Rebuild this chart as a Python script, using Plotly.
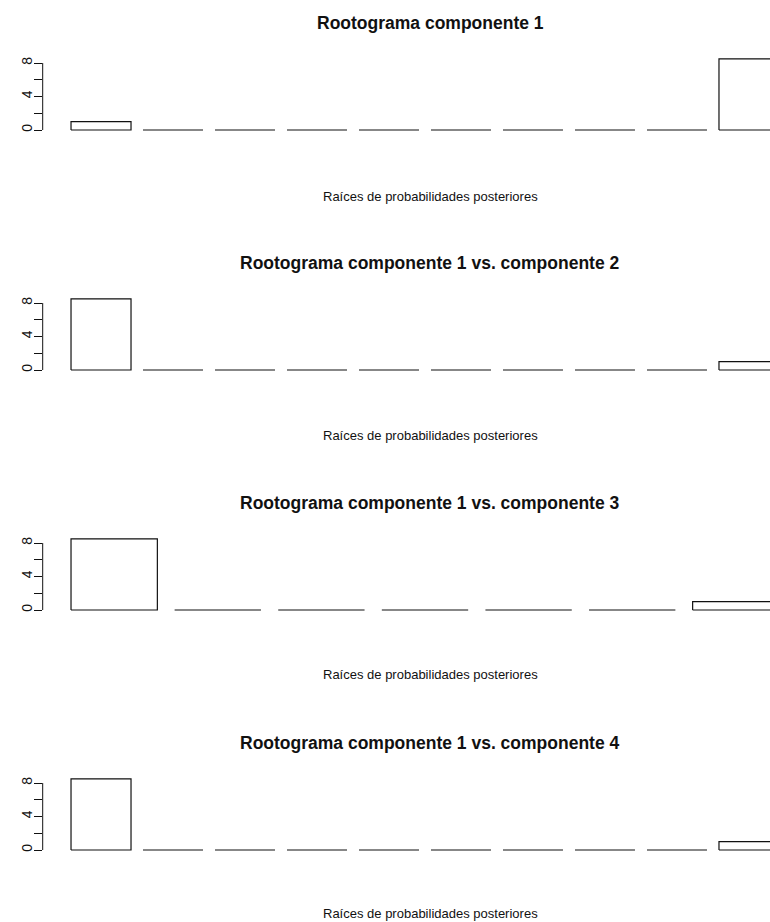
import plotly.graph_objects as go

# Square roots of posterior-probability counts per bin, one list per panel
titles = [
    "Rootograma componente 1",
    "Rootograma componente 1 vs. componente 2",
    "Rootograma componente 1 vs. componente 3",
    "Rootograma componente 1 vs. componente 4",
]
heights_c1 = [1, 0, 0, 0, 0, 0, 0, 0, 0, 8.49]
heights_c1_c2 = [8.49, 0, 0, 0, 0, 0, 0, 0, 0, 1]
heights_c1_c3 = [8.49, 0, 0, 0, 0, 0, 1]
heights_c1_c4 = [8.49, 0, 0, 0, 0, 0, 0, 0, 0, 1]
panels = [heights_c1, heights_c1_c2, heights_c1_c3, heights_c1_c4]
xlabel = "Raíces de probabilidades posteriores"
ytick_vals = [0, 2, 4, 6, 8]
ytick_text = ["0", "", "4", "", "8"]

W, H = 770, 922
PANEL_STEP = 240          # vertical pixel step between panels
LABEL_STEP = 239          # step for the x-axis captions
ZERO_PX = 130             # pixel row of y=0 in the first panel
UNIT_PX = 8.375           # pixels per y unit
LEFT_PX = 42.7            # left edge of plot region
PLOT_W_PX = 764.6         # full width of the plot region (runs past the page)
TITLE_X_PX = 430
TITLE_Y_PX = 23
XLAB_Y_PX = 196

BAR_W, SPACE = 1.0, 0.2
FONT = "Liberation Sans, Arial, sans-serif"

fig = go.Figure()
layout = dict(
    width=W, height=H, margin=dict(l=0, r=0, t=0, b=0),
    paper_bgcolor="white", plot_bgcolor="white", showlegend=False,
)
shapes, annotations = [], []

for k, hts in enumerate(panels):
    n = len(hts)
    ax = "" if k == 0 else str(k + 1)
    # R-style barplot geometry: bars of width 1 separated by 0.2
    xs, ys = [], []
    for i, h in enumerate(hts):
        l = SPACE + (BAR_W + SPACE) * i
        r = l + BAR_W
        xs += [l, l, r, r, l, None]
        ys += [0, h, h, 0, 0, None]
    fig.add_trace(go.Scatter(
        x=xs, y=ys, mode="lines", xaxis="x" + ax, yaxis="y" + ax,
        line=dict(color="#111111", width=1.2), hoverinfo="skip",
    ))

    # axis limits with 4% padding like base R
    xmin, xmax = SPACE, (BAR_W + SPACE) * n
    xr = xmax - xmin
    x_lo = xmin - 0.04 * xr
    scale = PLOT_W_PX / (1.08 * xr)
    x_hi = x_lo + (W - LEFT_PX) / scale
    ymax = max(hts)
    y_lo, y_hi = -0.04 * ymax, 1.04 * ymax

    zero_px = ZERO_PX + PANEL_STEP * k
    top_px = zero_px - y_hi * UNIT_PX
    bot_px = zero_px - y_lo * UNIT_PX

    layout["xaxis" + ax] = dict(
        domain=[LEFT_PX / W, 1], range=[x_lo, x_hi], visible=False,
        anchor="y" + ax,
    )
    layout["yaxis" + ax] = dict(
        domain=[1 - bot_px / H, 1 - top_px / H], range=[y_lo, y_hi],
        anchor="x" + ax, showgrid=False, zeroline=False, showline=False,
        ticks="outside", ticklen=8, tickwidth=1, tickcolor="#111111",
        tickvals=ytick_vals, ticktext=ytick_text, tickangle=-90,
        ticklabelstandoff=-4,
        tickfont=dict(family=FONT, size=14, color="#111111"),
    )
    shapes.append(dict(
        type="line", xref=f"x{ax} domain", yref="y" + ax,
        x0=0, x1=0, y0=ytick_vals[0], y1=ytick_vals[-1],
        line=dict(color="#111111", width=1),
    ))
    annotations.append(dict(
        text=f"<b>{titles[k]}</b>", xref="paper", yref="paper",
        x=TITLE_X_PX / W, y=1 - (TITLE_Y_PX + PANEL_STEP * k) / H,
        xanchor="center", yanchor="middle", showarrow=False,
        font=dict(family=FONT, size=17.5, color="#111111"),
    ))
    annotations.append(dict(
        text=xlabel, xref="paper", yref="paper",
        x=TITLE_X_PX / W, y=1 - (XLAB_Y_PX + LABEL_STEP * k) / H,
        xanchor="center", yanchor="middle", showarrow=False,
        font=dict(family=FONT, size=13, color="#111111"),
    ))

layout["shapes"] = shapes
layout["annotations"] = annotations
fig.update_layout(**layout)
fig.write_html("out.html")
